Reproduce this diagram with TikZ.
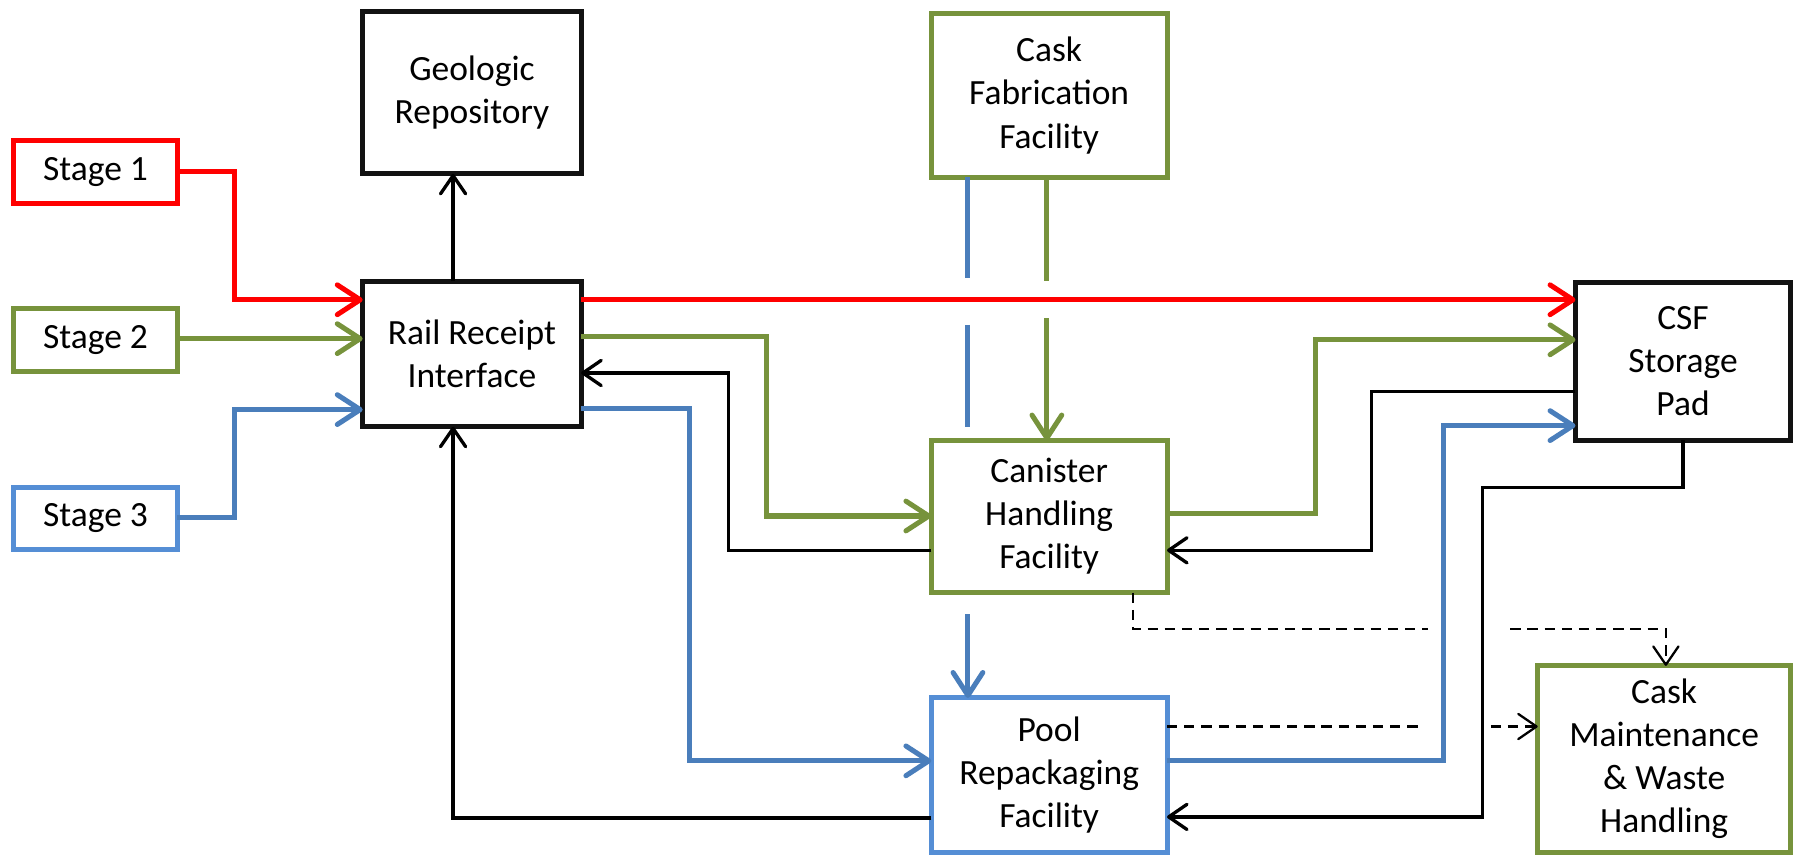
\documentclass[tikz,border=0pt]{standalone}
\usepackage{fontspec}
\setmainfont{Carlito}
\usetikzlibrary{arrows.meta}
\definecolor{cred}{HTML}{FF0000}
\definecolor{cgreen}{HTML}{77933C}
\definecolor{cblue}{HTML}{4A7EBB}
\definecolor{cbbox}{HTML}{558ED5}
\begin{document}
\begin{tikzpicture}[x=0.5pt,y=-0.5pt,
  box/.style={draw, line width=2.2pt, inner sep=0pt, outer sep=0pt, align=center,
    font=\fontsize{15.5}{18.8}\selectfont, text=black, fill=white},
  fat/.style={line width=2.2pt},
  fatarrow/.style={line width=2.2pt, -{Straight Barb[length=10pt,width=13pt,round]}},
  thin/.style={line width=1.45pt, black},
  thinarrow/.style={line width=1.45pt, black, -{Straight Barb[length=8pt,width=11pt,round]}},
  dashline/.style={line width=1pt, black, dash pattern=on 4.5pt off 3pt},
  dasharrow/.style={line width=1pt, black, dash pattern=on 4.5pt off 3pt, -{Straight Barb[length=8pt,width=11pt,round]}}
]
\useasboundingbox (0,0) rectangle (1568,748);

% boxes
\node[box, draw=cred, minimum width=71.5pt, minimum height=27.5pt] (s1) at (83.5,150) {Stage 1};
\node[box, draw=cgreen, minimum width=71.5pt, minimum height=27.5pt] (s2) at (83.5,297.5) {Stage 2};
\node[box, draw=cbbox, minimum width=71.5pt, minimum height=27pt] (s3) at (83.5,453) {Stage 3};
\node[box, draw=black!93, minimum width=95.5pt, minimum height=71pt] (geo) at (412.5,81) {Geologic\\Repository};
\node[box, draw=black!93, minimum width=95.5pt, minimum height=63.5pt] (rail) at (412.5,309.5) {Rail Receipt\\Interface};
\node[box, draw=cgreen, minimum width=103pt, minimum height=71.5pt] (fab) at (917,83.5) {Cask\\Fabrication\\Facility};
\node[box, draw=cgreen, minimum width=103pt, minimum height=66.5pt] (can) at (917,451.5) {Canister\\Handling\\Facility};
\node[box, draw=cbbox, minimum width=103pt, minimum height=67.5pt] (pool) at (917,677.5) {Pool\\Repackaging\\Facility};
\node[box, draw=black!93, minimum width=94pt, minimum height=69pt] (csf) at (1471,316) {CSF\\Storage\\Pad};
\node[box, draw=cgreen, minimum width=110.5pt, minimum height=81.5pt] (cm) at (1454.5,663.5) {Cask\\Maintenance\\\& Waste\\Handling};

% red
\draw[fatarrow, cred] (s1.east) -| (205,262) -- (rail.west |- 0,262);
\draw[fatarrow, cred] (rail.east |- 0,262) -- (csf.west |- 0,262);

% green
\draw[fatarrow, cgreen] (s2.east |- 0,296) -- (rail.west |- 0,296);
\draw[fatarrow, cgreen] (rail.east |- 0,294) -| (670,451) -- (can.west |- 0,451);
\draw[fat, cgreen] (fab.south -| 915,0) -- (915,246);
\draw[fatarrow, cgreen] (915,278) -- (can.north -| 915,0);
\draw[fatarrow, cgreen] (can.east |- 0,449) -| (1150,297) -- (csf.west |- 0,297);

% blue
\draw[fatarrow, cblue] (s3.east |- 0,452) -| (205,358) -- (rail.west |- 0,358);
\draw[fatarrow, cblue] (rail.east |- 0,357) -| (603,665) -- (pool.west |- 0,665);
\draw[fat, cblue] (846,155) -- (846,243);
\draw[fat, cblue] (846,284) -- (846,373);
\draw[fatarrow, cblue] (846,537) -- (pool.north -| 846,0);
\draw[fatarrow, cblue] (pool.east |- 0,665) -| (1262,372) -- (csf.west |- 0,372);

% black
\draw[thinarrow] (rail.north -| 396,0) -- (geo.south -| 396,0);
\draw[thinarrow] (can.west |- 0,481) -| (637,326) -- (rail.east |- 0,326);
\draw[thinarrow] (csf.west |- 0,342) -| (1199,481) -- (can.east |- 0,481);
\draw[thinarrow] (csf.south) |- (1296,426) |- (pool.east |- 0,714);
\draw[thinarrow] (pool.west |- 0,715) -| (rail.south -| 396,0);

% dashed
\draw[dashline] (can.south -| 990,0) |- (1248,550);
\draw[dasharrow] (1320,550) -| (cm.north -| 1456,0);
\draw[dashline] (pool.east |- 0,635) -- (1241,635);
\draw[dasharrow] (1303,635) -- (cm.west |- 0,635);
\end{tikzpicture}
\end{document}
